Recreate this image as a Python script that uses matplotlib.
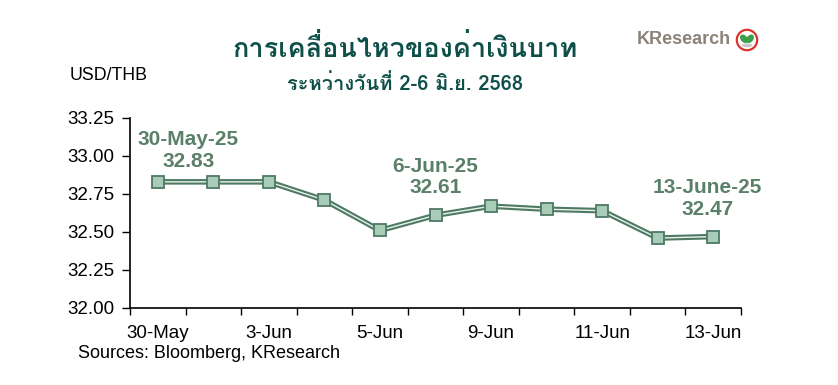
import matplotlib
matplotlib.use("Agg")
import matplotlib.pyplot as plt
from matplotlib import font_manager, ft2font
from matplotlib.patches import Circle, Ellipse

# data
dates = ["30-May", "2-Jun", "3-Jun", "4-Jun", "5-Jun", "6-Jun",
         "9-Jun", "10-Jun", "11-Jun", "12-Jun", "13-Jun"]
usdthb = [32.83, 32.83, 32.83, 32.71, 32.51, 32.61, 32.67, 32.65, 32.64, 32.46, 32.47]
yticks = [32.00, 32.25, 32.50, 32.75, 33.00, 33.25]
notes = [(0, "30-May-25\n32.83"), (5, "6-Jun-25\n32.61"), (10, "13-June-25\n32.47")]


def find_thai_font():
    best = None
    for f in font_manager.fontManager.ttflist:
        try:
            cmap = ft2font.FT2Font(f.fname).get_charmap()
        except Exception:
            continue
        if 0x0E01 in cmap:
            if f.weight in ("bold", 700):
                return f.name
            best = best or f.name
    return best


thai = find_thai_font()
sans = ["Liberation Sans", "DejaVu Sans"]
title_fam = ([thai] if thai else []) + sans

plt.rcParams["font.family"] = sans

fig = plt.figure(figsize=(8.38, 3.85), dpi=100)
ax = fig.add_axes([130 / 838, 77 / 385, 611 / 838, 190 / 385])

x = list(range(len(dates)))
dark = "#4e7a64"
ax.plot(x, usdthb, color=dark, lw=4.0, solid_joinstyle="miter", zorder=2)
ax.plot(x, usdthb, color="#e9f2ec", lw=1.0, zorder=3)
ax.plot(x, usdthb, ls="none", marker="s", ms=8.5, mfc="#a9ccb9", mec=dark, mew=1.3, zorder=4)

ax.set_xlim(-0.5, len(dates) - 0.5)
ax.set_ylim(32.0, 33.25)
ax.set_yticks(yticks)
ax.set_yticklabels([f"{v:.2f}" for v in yticks], fontsize=13.5)
ax.set_xticks([i + 0.5 for i in range(-1, len(dates))], minor=False)
ax.set_xticklabels([])
ax.set_xticks(x[::2], minor=True)
ax.set_xticklabels(dates[::2], minor=True, fontsize=13.5)
ax.tick_params(axis="x", which="major", direction="out", length=5, width=1)
ax.tick_params(axis="x", which="minor", length=0, pad=12)
ax.tick_params(axis="y", direction="out", length=6, width=1, pad=5)
for s in ("top", "right"):
    ax.spines[s].set_visible(False)
for s in ("left", "bottom"):
    ax.spines[s].set_linewidth(1.2)

note_col = "#5b8069"
offsets = {0: (22, 8), 5: (0, 13), 10: (-4, 13)}
for i, txt in notes:
    ax.annotate(txt, (x[i], usdthb[i]), xytext=offsets[i],
                textcoords="offset points", ha="center", va="bottom",
                fontsize=15, fontweight="bold", color=note_col, linespacing=1.15)

fig.text(70 / 838, 1 - 75 / 385, "USD/THB", fontsize=12.8, va="center")
fig.text(78 / 838, 1 - 353 / 385, "Sources: Bloomberg, KResearch", fontsize=13, va="center")

title_col = "#0e5049"
fig.text(405 / 838, 1 - 48 / 385, "การเคลื่อนไหวของค่าเงินบาท", family=title_fam,
         fontsize=19.5, fontweight="bold", color=title_col, ha="center", va="center")
fig.text(405 / 838, 1 - 84 / 385, "ระหว่างวันที่ 2-6 มิ.ย. 2568", family=title_fam,
         fontsize=14.5, fontweight="bold", color=title_col, ha="center", va="center")

# logo
fig.text(637 / 838, 1 - 40 / 385, "KResearch", fontsize=13, fontweight="bold",
         color="#8b8279", va="center")
lax = fig.add_axes([735 / 838, 1 - 52 / 385, 24 / 838, 24 / 385])
lax.set_xlim(-1, 1)
lax.set_ylim(-1, 1)
lax.set_aspect("equal")
lax.axis("off")
lax.add_patch(Circle((0, 0), 0.85, fc="white", ec="#d9342b", lw=1.6))
lax.add_patch(Ellipse((0, -0.45), 0.9, 0.3, fc="#c8c8c8"))
lax.add_patch(Ellipse((-0.25, 0.1), 0.55, 0.8, angle=40, fc="#3aa04a"))
lax.add_patch(Ellipse((0.25, 0.1), 0.55, 0.8, angle=-40, fc="#3aa04a"))

fig.savefig("out.png", dpi=100)
